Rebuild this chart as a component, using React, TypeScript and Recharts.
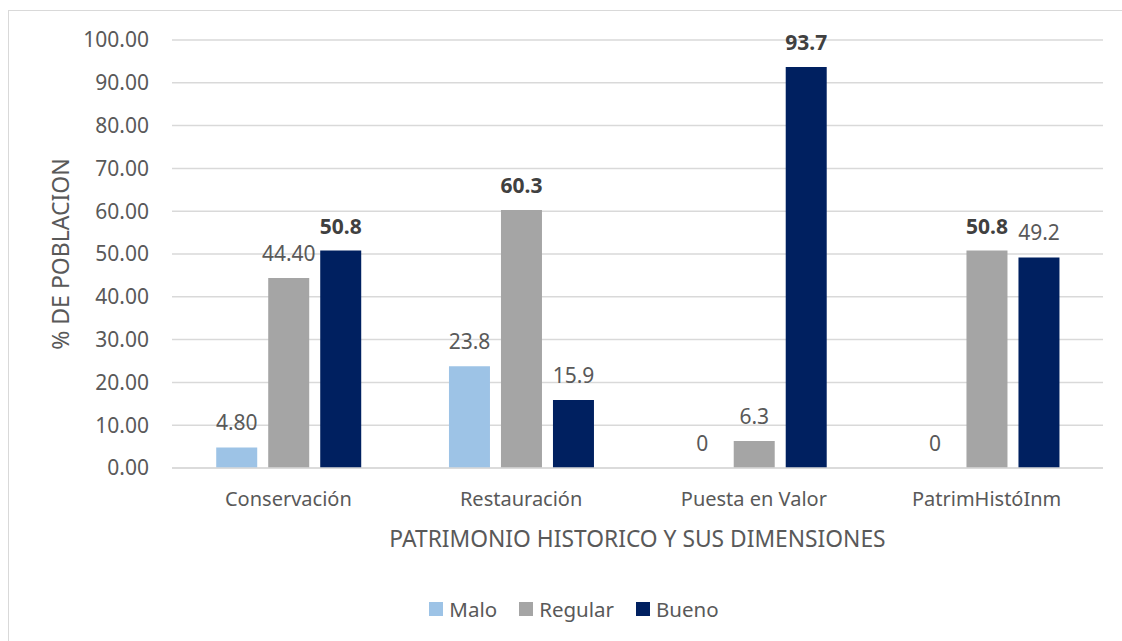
import React from "react";
import { BarChart, Bar, XAxis, YAxis, CartesianGrid, Legend, LabelList, Cell } from "recharts";

const categories = ["Conservación", "Restauración", "Puesta en Valor", "PatrimHistóInm"];
const malo = [4.8, 23.8, 0, 0];
const regular = [44.4, 60.3, 6.3, 50.8];
const bueno = [50.8, 15.9, 93.7, 49.2];
const maloLabels = ["4.80", "23.8", "0", "0"];
const regularLabels = ["44.40", "60.3", "6.3", "50.8"];
const buenoLabels = ["50.8", "15.9", "93.7", "49.2"];
const maloBold = [false, false, false, false];
const regularBold = [false, true, false, true];
const buenoBold = [true, false, true, false];
const yTicks = [0, 10, 20, 30, 40, 50, 60, 70, 80, 90, 100];

const series = [
  { key: "Malo", color: "#9DC3E6", values: malo },
  { key: "Regular", color: "#A5A5A5", values: regular },
  { key: "Bueno", color: "#002060", values: bueno },
];

const data = categories.map((c, i) => ({
  name: c,
  Malo: malo[i],
  Regular: regular[i],
  Bueno: bueno[i],
  MaloLabel: maloLabels[i],
  RegularLabel: regularLabels[i],
  BuenoLabel: buenoLabels[i],
  MaloBold: maloBold[i],
  RegularBold: regularBold[i],
  BuenoBold: buenoBold[i],
}));

const FONT = "'Noto Sans', sans-serif";
const TEXT = "#595959";

const makeLabel = (key: string) => (props: any) => {
  const { x, y, width, height, index, viewBox } = props;
  const vb = viewBox || {};
  const bx = x ?? vb.x;
  const by = y ?? vb.y;
  const bw = width ?? vb.width ?? 0;
  const bh = height ?? vb.height ?? 0;
  if (bx == null || by == null) return null;
  const top = Math.min(by, by + bh);
  const d = data[index] as any;
  const bold = d[key + "Bold"];
  const isZero = d[key] === 0;
  return (
    <text
      x={bx + bw / 2}
      y={(isZero ? by + bh : top) - 17}
      textAnchor="middle"
      fontFamily={FONT}
      fontSize={21}
      fontWeight={bold ? 700 : 400}
      fill={bold ? "#404040" : TEXT}
    >
      {d[key + "Label"]}
    </text>
  );
};

const LegendContent = () => (
  <div style={{ display: "flex", justifyContent: "center", fontFamily: FONT, fontSize: 20.5, color: TEXT }}>
    {series.map((s) => (
      <div key={s.key} style={{ display: "flex", alignItems: "center", marginRight: 22 }}>
        <span style={{ width: 14, height: 14, background: s.color, display: "inline-block", marginRight: 6 }} />
        <span>{s.key}</span>
      </div>
    ))}
  </div>
);

const zeroMin = (value: any) => (value === 0 ? 0.5 : 0);

export default function App() {
  return (
    <div style={{ position: "absolute", left: 0, top: 0, width: 1122, height: 641, background: "#fff" }}>
      <div
        style={{
          position: "absolute",
          left: 8,
          top: 10,
          width: 1130,
          height: 650,
          border: "1px solid #D9D9D9",
          boxSizing: "border-box",
        }}
      />
      <div style={{ position: "absolute", left: 0, top: 0 }}>
        <BarChart
          width={1122}
          height={641}
          data={data}
          margin={{ top: 40, right: 19, left: 0, bottom: 73 }}
          barCategoryGap="19%"
          barGap={11}
        >
          <CartesianGrid vertical={false} stroke="#D9D9D9" strokeWidth={1.5} />
          <XAxis
            dataKey="name"
            height={100}
            tickLine={false}
            axisLine={{ stroke: "#D9D9D9", strokeWidth: 1.5 }}
            tickSize={0}
            tickMargin={24}
            tick={{ fill: TEXT, fontSize: 20, fontFamily: FONT }}
            label={{
              value: "PATRIMONIO HISTORICO Y SUS DIMENSIONES",
              position: "insideBottom",
              offset: 21,
              fill: TEXT,
              fontSize: 22.8,
              fontFamily: FONT,
            }}
          />
          <YAxis
            width={172}
            domain={[0, 100]}
            ticks={yTicks}
            interval={0}
            tickFormatter={(v: number) => v.toFixed(2)}
            tickLine={false}
            axisLine={false}
            tickSize={0}
            tickMargin={23}
            tick={{ fill: TEXT, fontSize: 21, fontFamily: FONT }}
            label={{
              value: "% DE POBLACION",
              angle: -90,
              position: "insideLeft",
              offset: 61,
              fill: TEXT,
              fontSize: 23,
              fontFamily: FONT,
              style: { textAnchor: "middle" },
            }}
          />
          <Legend
            verticalAlign="middle"
            align="center"
            layout="horizontal"
            content={<LegendContent />}
            wrapperStyle={{ top: 595, left: 300, width: 570 }}
          />
          {series.map((s) => (
            <Bar
              key={s.key}
              dataKey={s.key}
              fill={s.color}
              minPointSize={zeroMin}
              isAnimationActive={false}
            >
              {s.values.map((v, i) => (
                <Cell key={i} fill={v === 0 ? "transparent" : s.color} />
              ))}
              <LabelList dataKey={s.key + "Label"} content={makeLabel(s.key)} />
            </Bar>
          ))}
        </BarChart>
      </div>
    </div>
  );
}
